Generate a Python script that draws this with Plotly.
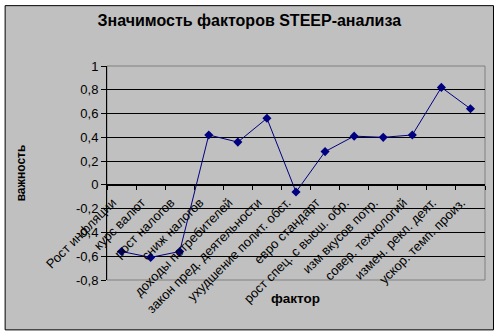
import plotly.graph_objects as go

categories = ["Рост инфляции", "курс валют", "рост налогов", "сниж налогов",
              "доходы потребителей", "закон пред. деятельности",
              "ухудшение полит. обст.", "евро стандарт",
              "рост спец. с высш. обр.", "изм вкусов потр.",
              "совер. технологий", "измен. рекл. деят.", "ускор. темп. произ."]
values = [-0.56, -0.61, -0.56, 0.42, 0.36, 0.56, -0.06, 0.28, 0.41, 0.40, 0.42, 0.82, 0.64]
y_tickvals = [1, 0.8, 0.6, 0.4, 0.2, 0, -0.2, -0.4, -0.6, -0.8]
y_ticktext = ["1", "0,8", "0,6", "0,4", "0,2", "0", "-0,2", "-0,4", "-0,6", "-0,8"]

W, H = 501, 336
L, R, T, B = 107, 15.5, 65.5, 56
pw, ph = W - L - R, H - T - B
ymin, ymax = -0.8, 1.0

FONT = "Liberation Sans, Arial, sans-serif"

fig = go.Figure(go.Scatter(
    x=categories, y=values, mode="lines+markers",
    line=dict(color="#000080", width=1),
    marker=dict(symbol="diamond", size=7, color="#000080"),
))

def px_x(p):
    return (p - L) / pw

def px_y(p):
    return (H - B - p) / ph

shapes = [
    dict(type="rect", xref="paper", yref="paper",
         x0=px_x(5), x1=px_x(494), y0=px_y(330), y1=px_y(5),
         fillcolor="#C0C0C0", line=dict(color="black", width=1), layer="below"),
    dict(type="rect", xref="paper", yref="paper", x0=0, x1=1, y0=0, y1=1,
         line=dict(color="#808080", width=1), layer="below"),
]

fig.update_layout(
    width=W, height=H,
    margin=dict(l=L, r=R, t=T, b=B),
    paper_bgcolor="white", plot_bgcolor="#C0C0C0",
    showlegend=False,
    font=dict(family=FONT, size=13, color="black"),
    title=dict(text="<b>Значимость факторов STEEP-анализа</b>",
               x=px_x(249.5), xref="paper", xanchor="center",
               y=1 - 20 / H, yanchor="middle",
               font=dict(size=16, family=FONT)),
    shapes=shapes,
    annotations=[dict(text="<b>фактор</b>", xref="paper", yref="paper",
                      x=px_x(296), y=px_y(308), showarrow=False,
                      font=dict(size=13.5, family=FONT))],
    xaxis=dict(type="category", anchor="free",
               position=(0 - ymin) / (ymax - ymin),
               showline=True, linecolor="black", linewidth=1,
               showgrid=False, ticks="outside", ticklen=4, tickcolor="black",
               tickson="boundaries", tickangle=-45,
               ticklabelshift=-9, ticklabelstandoff=4,
               tickfont=dict(size=13, family=FONT),
               range=[-0.5, len(categories) - 0.5]),
    yaxis=dict(range=[ymin, ymax], tickvals=y_tickvals, ticktext=y_ticktext,
               showline=True, linecolor="black", linewidth=1,
               showgrid=True, gridcolor="black", gridwidth=1,
               zeroline=False, ticks="outside", ticklen=5, tickcolor="black",
               tickfont=dict(size=13, family=FONT),
               title=dict(text="<b>важность</b>", standoff=47,
                          font=dict(size=12, family=FONT))),
)

fig.write_html("out.html")
